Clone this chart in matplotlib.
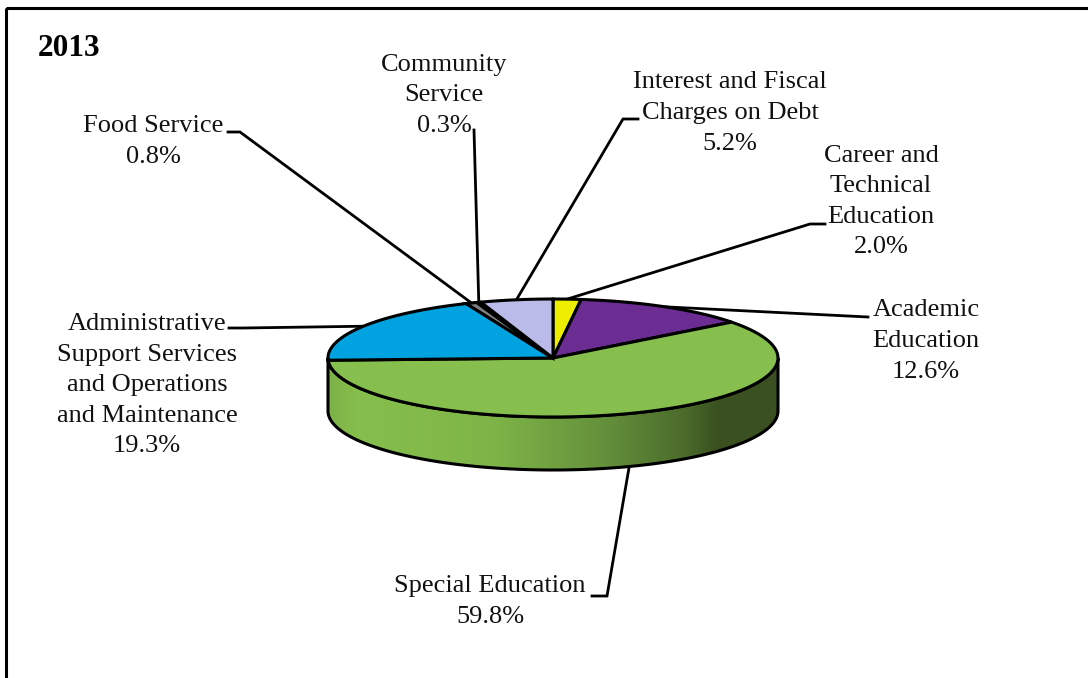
import numpy as np
import matplotlib
matplotlib.use('Agg')
import matplotlib.pyplot as plt
from matplotlib.colors import LinearSegmentedColormap
from matplotlib.patches import Polygon, Rectangle

plt.rcParams['font.family'] = ['Liberation Serif', 'DejaVu Serif']

# slices run clockwise from 12 o'clock
categories = ['Career and\nTechnical\nEducation', 'Academic\nEducation', 'Special Education',
              'Administrative\nSupport Services\nand Operations\nand Maintenance',
              'Food Service', 'Community\nService', 'Interest and Fiscal\nCharges on Debt']
shares = [2.0, 12.6, 59.8, 19.3, 0.8, 0.3, 5.2]
colors = ['#EDED00', '#6B2D91', '#86BF4D', '#00A3E0', '#7F7F7F', '#404040', '#BBBBEA']

# label centre (pixels) and the start of each leader line
label_pos = [(881, 201.5), (926, 341), (490, 601.5), (147, 385), (153, 141.5), (444, 95), (730, 113)]
leader_start = [[(825, 224), (810, 224)], [(868, 317)], [(592, 596), (607, 596)],
                [(229, 328), (243, 328)], [(228, 132), (240, 132)], [(474, 130)], [(638, 119), (623, 119)]]

cx, cy = 553, 358
rx, ry = 225, 59
depth = 53


def rim(frac):
    # point on the top ellipse, frac of the way round clockwise from the top
    a = 2 * np.pi * frac
    return cx + rx * np.sin(a), cy - ry * np.cos(a)


fig = plt.figure(figsize=(10.88, 6.78), dpi=100)
ax = fig.add_axes([0, 0, 1, 1])
ax.set_xlim(0, 1088)
ax.set_ylim(678, 0)
ax.axis('off')

# frame runs off the right and bottom edges
ax.add_patch(Rectangle((6, 8), 1200, 800, fill=False, edgecolor='black', linewidth=2.2, zorder=1))
ax.text(38, 48, '2013', fontsize=22.5, fontweight='bold', ha='left', va='center')

edges = np.cumsum([0] + shares) / 100

# outer wall of the front of the pie, shaded left to right
t = np.linspace(0.25, 0.75, 200)
xs = cx + rx * np.sin(2 * np.pi * t)
ys = cy - ry * np.cos(2 * np.pi * t)
wall_pts = np.column_stack([np.r_[xs, xs[::-1]], np.r_[ys, ys[::-1] + depth]])
wall = Polygon(wall_pts, closed=True, facecolor='none', edgecolor='black', linewidth=2.2, zorder=4)
shade = LinearSegmentedColormap.from_list('wall', [(0, '#7DB146'), (0.06, '#86BF4D'), (0.36, '#7FB548'),
                                                   (0.6, '#66933C'), (0.8, '#4A6A2A'), (0.87, '#3A5020'),
                                                   (1, '#3A5020')])
img = ax.imshow(np.linspace(0, 1, 300)[None, :], cmap=shade, aspect='auto',
                extent=(cx - rx, cx + rx, cy + ry + depth, cy - ry), zorder=3)
ax.add_patch(wall)
img.set_clip_path(Polygon(wall_pts, closed=True, transform=ax.transData))
ax.set_xlim(0, 1088)
ax.set_ylim(678, 0)

# top face
for i, c in enumerate(colors):
    t = np.linspace(edges[i], edges[i + 1], 80)
    px, py = rim(t)
    pts = np.column_stack([np.r_[cx, px], np.r_[cy, py]])
    ax.add_patch(Polygon(pts, closed=True, facecolor=c, edgecolor='black', linewidth=2.2,
                         joinstyle='miter', zorder=5))

# leader lines run under the pie and end at the middle of their slice
for i in range(len(shares)):
    mx, my = rim((edges[i] + edges[i + 1]) / 2)
    if edges[i] < 0.5 < edges[i + 1]:
        my += depth
    lx = [p[0] for p in leader_start[i]] + [mx]
    ly = [p[1] for p in leader_start[i]] + [my]
    ax.plot(lx, ly, color='black', linewidth=2.0, solid_joinstyle='miter', zorder=2)

for name, share, (lx, ly) in zip(categories, shares, label_pos):
    ax.text(lx, ly, f'{name}\n{share:.1f}%', fontsize=19, ha='center', va='center',
            linespacing=1.5, color='#111111', zorder=6)

fig.savefig('out.png', dpi=100)
